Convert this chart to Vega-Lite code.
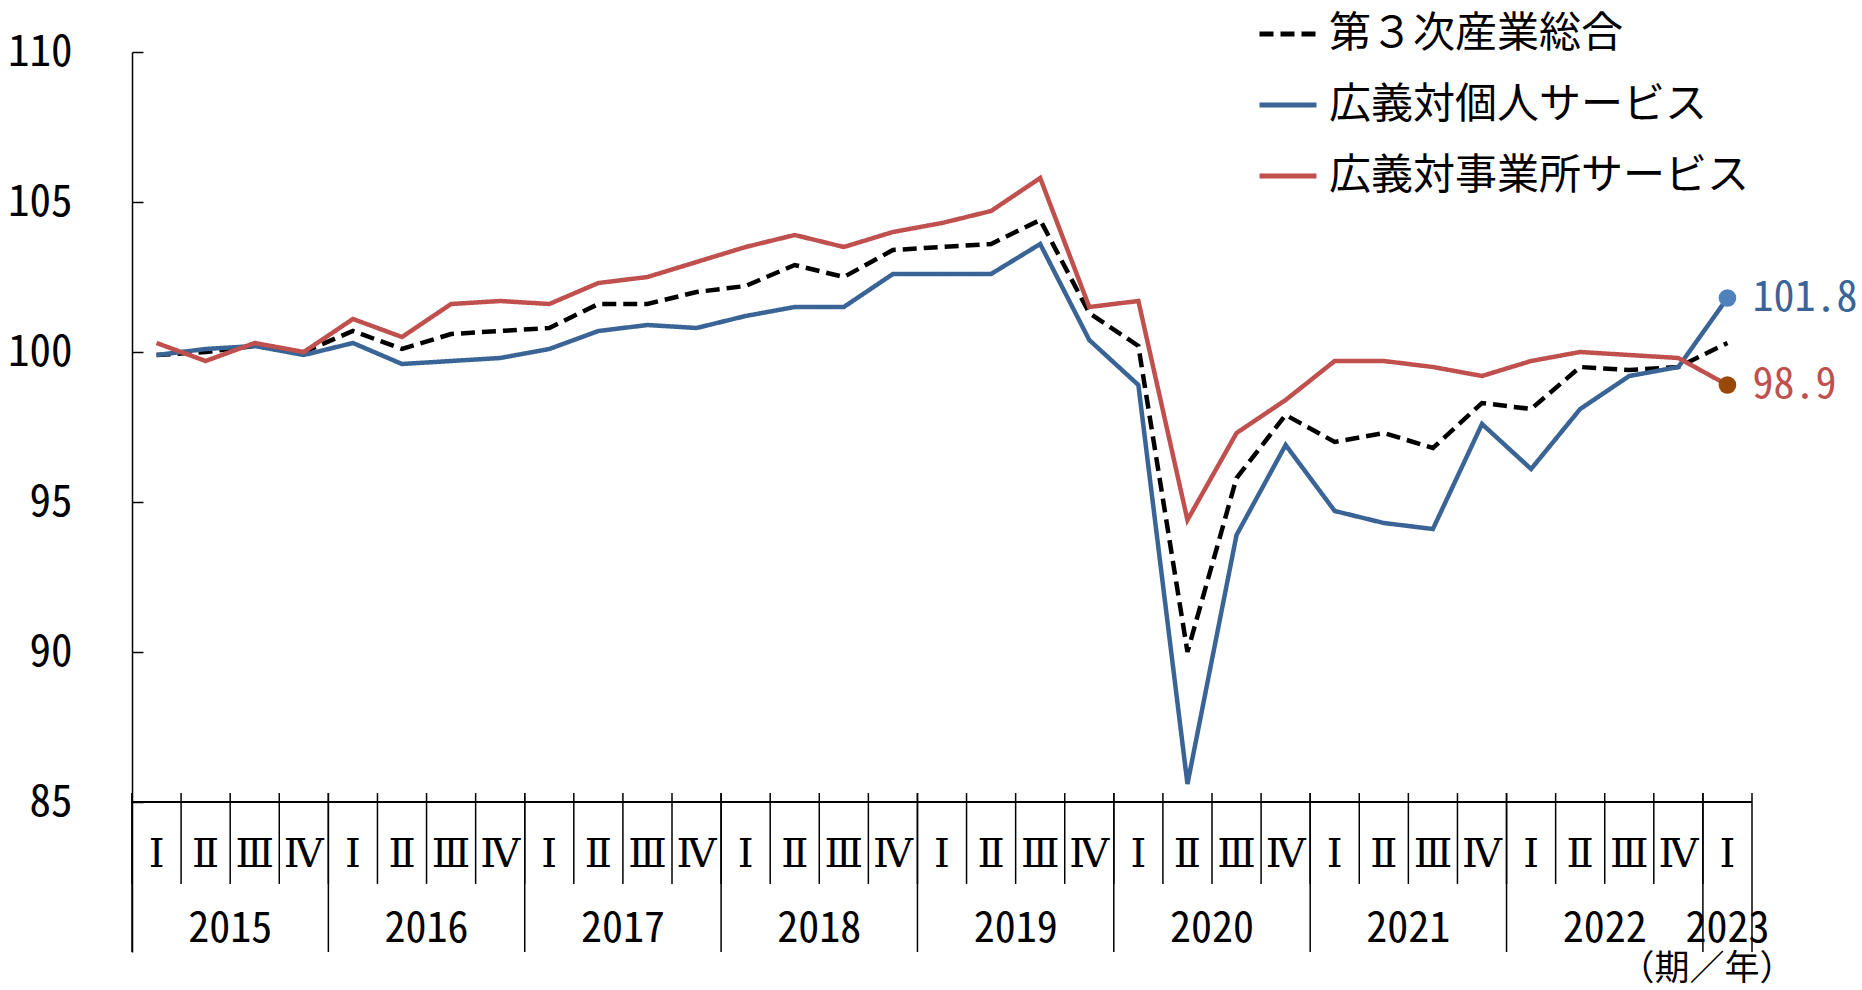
{
  "$schema": "https://vega.github.io/schema/vega-lite/v6.json",
  "width": 1620,
  "height": 900,
  "autosize": {"type": "none"},
  "padding": {"left": 132, "top": 52, "right": 110, "bottom": 38},
  "background": "white",
  "config": {
    "view": {"stroke": null},
    "font": "'Noto Sans Mono CJK JP', 'Noto Sans CJK JP', sans-serif",
    "legend": {
      "orient": "none",
      "legendX": 1125,
      "legendY": -49,
      "padding": 0,
      "labelFont": "'Noto Sans Mono CJK JP', 'Noto Sans CJK JP', sans-serif",
      "labelFontSize": 42,
      "labelColor": "#000000",
      "labelOffset": 10,
      "labelLimit": 0,
      "symbolType": "stroke",
      "symbolSize": 3249,
      "symbolStrokeWidth": 5,
      "rowPadding": 19
    }
  },
  "data": {
    "values": [
      {"p": "2015-1", "q": "Ⅰ", "yr": "2015", "第３次産業総合": 99.9, "広義対個人サービス": 99.9, "広義対事業所サービス": 100.3},
      {"p": "2015-2", "q": "Ⅱ", "yr": "2015", "第３次産業総合": 100.0, "広義対個人サービス": 100.1, "広義対事業所サービス": 99.7},
      {"p": "2015-3", "q": "Ⅲ", "yr": "2015", "第３次産業総合": 100.2, "広義対個人サービス": 100.2, "広義対事業所サービス": 100.3},
      {"p": "2015-4", "q": "Ⅳ", "yr": "2015", "第３次産業総合": 100.0, "広義対個人サービス": 99.9, "広義対事業所サービス": 100.0},
      {"p": "2016-1", "q": "Ⅰ", "yr": "2016", "第３次産業総合": 100.7, "広義対個人サービス": 100.3, "広義対事業所サービス": 101.1},
      {"p": "2016-2", "q": "Ⅱ", "yr": "2016", "第３次産業総合": 100.1, "広義対個人サービス": 99.6, "広義対事業所サービス": 100.5},
      {"p": "2016-3", "q": "Ⅲ", "yr": "2016", "第３次産業総合": 100.6, "広義対個人サービス": 99.7, "広義対事業所サービス": 101.6},
      {"p": "2016-4", "q": "Ⅳ", "yr": "2016", "第３次産業総合": 100.7, "広義対個人サービス": 99.8, "広義対事業所サービス": 101.7},
      {"p": "2017-1", "q": "Ⅰ", "yr": "2017", "第３次産業総合": 100.8, "広義対個人サービス": 100.1, "広義対事業所サービス": 101.6},
      {"p": "2017-2", "q": "Ⅱ", "yr": "2017", "第３次産業総合": 101.6, "広義対個人サービス": 100.7, "広義対事業所サービス": 102.3},
      {"p": "2017-3", "q": "Ⅲ", "yr": "2017", "第３次産業総合": 101.6, "広義対個人サービス": 100.9, "広義対事業所サービス": 102.5},
      {"p": "2017-4", "q": "Ⅳ", "yr": "2017", "第３次産業総合": 102.0, "広義対個人サービス": 100.8, "広義対事業所サービス": 103.0},
      {"p": "2018-1", "q": "Ⅰ", "yr": "2018", "第３次産業総合": 102.2, "広義対個人サービス": 101.2, "広義対事業所サービス": 103.5},
      {"p": "2018-2", "q": "Ⅱ", "yr": "2018", "第３次産業総合": 102.9, "広義対個人サービス": 101.5, "広義対事業所サービス": 103.9},
      {"p": "2018-3", "q": "Ⅲ", "yr": "2018", "第３次産業総合": 102.5, "広義対個人サービス": 101.5, "広義対事業所サービス": 103.5},
      {"p": "2018-4", "q": "Ⅳ", "yr": "2018", "第３次産業総合": 103.4, "広義対個人サービス": 102.6, "広義対事業所サービス": 104.0},
      {"p": "2019-1", "q": "Ⅰ", "yr": "2019", "第３次産業総合": 103.5, "広義対個人サービス": 102.6, "広義対事業所サービス": 104.3},
      {"p": "2019-2", "q": "Ⅱ", "yr": "2019", "第３次産業総合": 103.6, "広義対個人サービス": 102.6, "広義対事業所サービス": 104.7},
      {"p": "2019-3", "q": "Ⅲ", "yr": "2019", "第３次産業総合": 104.4, "広義対個人サービス": 103.6, "広義対事業所サービス": 105.8},
      {"p": "2019-4", "q": "Ⅳ", "yr": "2019", "第３次産業総合": 101.3, "広義対個人サービス": 100.4, "広義対事業所サービス": 101.5},
      {"p": "2020-1", "q": "Ⅰ", "yr": "2020", "第３次産業総合": 100.2, "広義対個人サービス": 98.9, "広義対事業所サービス": 101.7},
      {"p": "2020-2", "q": "Ⅱ", "yr": "2020", "第３次産業総合": 90.0, "広義対個人サービス": 85.6, "広義対事業所サービス": 94.4},
      {"p": "2020-3", "q": "Ⅲ", "yr": "2020", "第３次産業総合": 95.8, "広義対個人サービス": 93.9, "広義対事業所サービス": 97.3},
      {"p": "2020-4", "q": "Ⅳ", "yr": "2020", "第３次産業総合": 97.9, "広義対個人サービス": 96.9, "広義対事業所サービス": 98.4},
      {"p": "2021-1", "q": "Ⅰ", "yr": "2021", "第３次産業総合": 97.0, "広義対個人サービス": 94.7, "広義対事業所サービス": 99.7},
      {"p": "2021-2", "q": "Ⅱ", "yr": "2021", "第３次産業総合": 97.3, "広義対個人サービス": 94.3, "広義対事業所サービス": 99.7},
      {"p": "2021-3", "q": "Ⅲ", "yr": "2021", "第３次産業総合": 96.8, "広義対個人サービス": 94.1, "広義対事業所サービス": 99.5},
      {"p": "2021-4", "q": "Ⅳ", "yr": "2021", "第３次産業総合": 98.3, "広義対個人サービス": 97.6, "広義対事業所サービス": 99.2},
      {"p": "2022-1", "q": "Ⅰ", "yr": "2022", "第３次産業総合": 98.1, "広義対個人サービス": 96.1, "広義対事業所サービス": 99.7},
      {"p": "2022-2", "q": "Ⅱ", "yr": "2022", "第３次産業総合": 99.5, "広義対個人サービス": 98.1, "広義対事業所サービス": 100.0},
      {"p": "2022-3", "q": "Ⅲ", "yr": "2022", "第３次産業総合": 99.4, "広義対個人サービス": 99.2, "広義対事業所サービス": 99.9},
      {"p": "2022-4", "q": "Ⅳ", "yr": "2022", "第３次産業総合": 99.5, "広義対個人サービス": 99.5, "広義対事業所サービス": 99.8},
      {"p": "2023-1", "q": "Ⅰ", "yr": "2023", "第３次産業総合": 100.3, "広義対個人サービス": 101.8, "広義対事業所サービス": 98.9}
    ]
  },
  "resolve": {"scale": {"color": "shared"}},
  "layer": [
    {
      "mark": {"type": "rule", "stroke": "#000000", "strokeWidth": 1.5},
      "encoding": {
        "x": {"field": "p", "type": "ordinal", "bandPosition": 0, "scale": {"type": "band", "paddingInner": 0, "paddingOuter": 0, "domain": ["2015-1","2015-2","2015-3","2015-4","2016-1","2016-2","2016-3","2016-4","2017-1","2017-2","2017-3","2017-4","2018-1","2018-2","2018-3","2018-4","2019-1","2019-2","2019-3","2019-4","2020-1","2020-2","2020-3","2020-4","2021-1","2021-2","2021-3","2021-4","2022-1","2022-2","2022-3","2022-4","2023-1"]}, "axis": null},
        "y": {"datum": 85.3, "type": "quantitative", "scale": {"domain": [80, 110], "nice": false, "zero": false}, "axis": {"values": [85, 90, 95, 100, 105, 110], "title": null, "grid": false, "domain": true, "domainColor": "#000000", "domainWidth": 1.5, "ticks": true, "tickSize": -11, "tickColor": "#000000", "tickWidth": 1.5, "labelPadding": 71, "labelFontSize": 43, "labelColor": "#000000", "labelFont": "'Noto Sans Mono CJK JP', 'Noto Sans CJK JP', sans-serif"}},
        "y2": {"datum": 82.27}
      }
    },
    {
      "transform": [{"filter": "datum.q === 'Ⅰ'"}],
      "mark": {"type": "rule", "stroke": "#000000", "strokeWidth": 1.5},
      "encoding": {
        "x": {"field": "p", "type": "ordinal", "bandPosition": 0},
        "y": {"datum": 85.3, "type": "quantitative"},
        "y2": {"datum": 80}
      }
    },
    {
      "transform": [{"filter": "datum.p === '2023-1'"}],
      "mark": {"type": "rule", "stroke": "#000000", "strokeWidth": 1.5},
      "encoding": {
        "x": {"field": "p", "type": "ordinal", "bandPosition": 1},
        "y": {"datum": 85.3, "type": "quantitative"},
        "y2": {"datum": 80}
      }
    },
    {
      "mark": {"type": "rule", "stroke": "#000000", "strokeWidth": 1.5},
      "encoding": {"y": {"datum": 85, "type": "quantitative"}}
    },
    {
      "mark": {"type": "text", "font": "'DejaVu Serif', 'Noto Sans CJK JP', serif", "fontSize": 40, "baseline": "middle", "align": "center", "color": "#000000"},
      "encoding": {
        "x": {"field": "p", "type": "ordinal", "bandPosition": 0.5},
        "y": {"datum": 83.25, "type": "quantitative"},
        "text": {"field": "q"}
      }
    },
    {
      "transform": [{"filter": "datum.q === 'Ⅱ'"}],
      "mark": {"type": "text", "fontSize": 42, "baseline": "middle", "align": "center", "color": "#000000"},
      "encoding": {
        "x": {"field": "p", "type": "ordinal", "bandPosition": 1},
        "y": {"datum": 80.77, "type": "quantitative"},
        "text": {"field": "yr"}
      }
    },
    {
      "transform": [{"filter": "datum.p === '2023-1'"}],
      "mark": {"type": "text", "fontSize": 42, "baseline": "middle", "align": "center", "color": "#000000"},
      "encoding": {
        "x": {"field": "p", "type": "ordinal", "bandPosition": 0.5},
        "y": {"datum": 80.77, "type": "quantitative"},
        "text": {"field": "yr"}
      }
    },
    {
      "transform": [{"filter": "datum.p === '2023-1'"}],
      "mark": {"type": "text", "fontSize": 35, "baseline": "middle", "align": "center", "color": "#000000", "dx": 4, "text": "（期／年）"},
      "encoding": {
        "x": {"field": "p", "type": "ordinal", "bandPosition": 0},
        "y": {"datum": 79.45, "type": "quantitative"}
      }
    },
    {
      "transform": [{"fold": ["第３次産業総合", "広義対個人サービス", "広義対事業所サービス"], "as": ["series", "value"]}],
      "mark": {"type": "line", "strokeWidth": 4.5},
      "encoding": {
        "x": {"field": "p", "type": "ordinal", "bandPosition": 0.5},
        "y": {"field": "value", "type": "quantitative"},
        "color": {"field": "series", "type": "nominal", "scale": {"domain": ["第３次産業総合", "広義対個人サービス", "広義対事業所サービス"], "range": ["#000000", "#3A6496", "#C0504D"]}, "legend": {"title": null}},
        "strokeDash": {"field": "series", "type": "nominal", "scale": {"domain": ["第３次産業総合", "広義対個人サービス", "広義対事業所サービス"], "range": [[14, 7], [1, 0], [1, 0]]}, "legend": {"title": null}}
      }
    },
    {
      "transform": [{"filter": "datum.p === '2023-1'"}, {"fold": ["広義対個人サービス", "広義対事業所サービス"], "as": ["series", "value"]}],
      "mark": {"type": "circle", "size": 310, "opacity": 1},
      "encoding": {
        "x": {"field": "p", "type": "ordinal", "bandPosition": 0.5},
        "y": {"field": "value", "type": "quantitative"},
        "fill": {"condition": {"test": "datum.series === '広義対個人サービス'", "value": "#4F81BD"}, "value": "#984807"}
      }
    },
    {
      "transform": [{"filter": "datum.p === '2023-1'"}, {"fold": ["広義対個人サービス", "広義対事業所サービス"], "as": ["series", "value"]}],
      "mark": {"type": "text", "fontSize": 42, "align": "left", "baseline": "middle", "dx": 25},
      "encoding": {
        "x": {"field": "p", "type": "ordinal", "bandPosition": 0.5},
        "y": {"field": "value", "type": "quantitative"},
        "text": {"field": "value", "type": "quantitative", "format": ".1f"},
        "fill": {"condition": {"test": "datum.series === '広義対個人サービス'", "value": "#3A6496"}, "value": "#C0504D"}
      }
    }
  ]
}
